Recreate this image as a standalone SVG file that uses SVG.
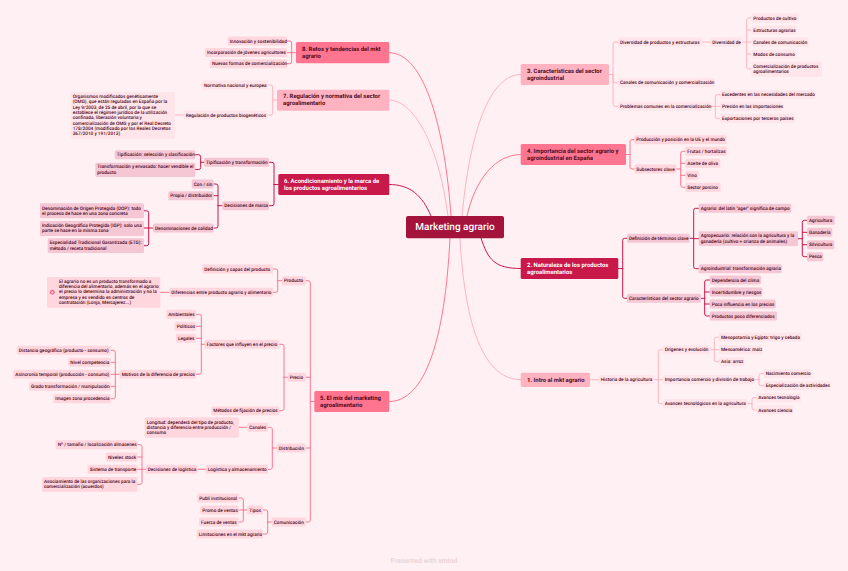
<svg xmlns="http://www.w3.org/2000/svg" width="848" height="571" viewBox="0 0 848 571">
<style>
text{font-family:"Roboto","Liberation Sans",sans-serif;font-size:4.72px;font-weight:500;fill:#4f0a1e;dominant-baseline:middle;text-rendering:geometricPrecision;transform:translateY(.45px)}
.m{font-size:5.95px;font-weight:700}
.w{fill:#fff}
.a{fill:#f5c6d4}.b{fill:#ffd6de}.c{fill:#ffe5ea}
.A{fill:#c9184a}.B{fill:#ff758f}.C{fill:#ffb3c1}
rect{rx:1.5px}
#connectors path{fill:none;stroke-width:1;stroke-linecap:round}
.la{stroke:#c9184a}.lb{stroke:#ff758f}.lc{stroke:#ffb3c1}
</style>
<rect width="848" height="571" fill="#fff0f3" style="rx:0"/>
<g id="connectors">
<path class="lb" d="M389.3 52.7C425 52.7 445 130 451 216"/>
<path class="lc" d="M389.3 100C412 100 438 140 448 216"/>
<path class="la" d="M389.3 184.5C410 184.5 422 195 431 216"/>
<path class="lb" d="M389.3 401.5C425 401.5 445 340 450 238"/>
<path class="lc" d="M520.7 379.7C485 379.7 465 330 460 238"/>
<path class="la" d="M520.7 268.5C495 268.5 488 260 481 238"/>
<path class="lb" d="M520.7 154.5C495 154.5 475 180 467 216"/>
<path class="lc" d="M520.7 74.5C490 74.5 470 130 462 216"/>
<path class="lb" d="M296 52.7H291.7M291.7 52.7V43Q291.7 41 289.7 41H287M291.7 52.7H287M291.7 52.7V61.7Q291.7 63.7 289.7 63.7H287"/>
<path class="lc" d="M277 100H272.7M272.7 100V87Q272.7 85 270.7 85H268M272.7 100V113Q272.7 115 270.7 115H268M183.7 115H175"/>
<path class="la" d="M278.3 184.5H274M274 184.5V164.3Q274 162.3 272 162.3H269M274 184.5V203.7Q274 205.7 272 205.7H269"/>
<path class="la" d="M204 162.3H200.7M200.7 162.3V156.7Q200.7 154.7 198.7 154.7H195.3M200.7 162.3V167.5Q200.7 169.5 198.7 169.5H195.3"/>
<path class="la" d="M222.3 205.7H218M218 205.7V186Q218 184 216 184H213.7M218 195.7H213.7M218 205.7V226Q218 228 216 228H213.7"/>
<path class="la" d="M153 228H148.7M148.7 228V212.8Q148.7 210.8 146.7 210.8H144M148.7 228H144M148.7 228V243.7Q148.7 245.7 146.7 245.7H144"/>
<path class="lb" d="M314.3 401.5H310.3M310.3 401.5V282.7Q310.3 280.7 308.3 280.7H305.7M310.3 377.3H305.7M310.3 401.5V520Q310.3 522 308.3 522H305.7M310.3 448H305.7"/>
<path class="lb" d="M282 280.7H277.7M277.7 280.7V271Q277.7 269 275.7 269H273M277.7 280.7V290.3Q277.7 292.3 275.7 292.3H273M169.3 292.3H160.3"/>
<path class="lb" d="M287.7 377.3H284M284 377.3V346.3Q284 344.3 282 344.3H279.3M284 377.3V408.7Q284 410.7 282 410.7H279.3"/>
<path class="lb" d="M204.7 344.3H201.3M201.3 344.3V316.3Q201.3 314.3 199.3 314.3H196M201.3 326.3H196M201.3 338.3H196M201.3 344.3V372.3Q201.3 374.3 199.3 374.3H196"/>
<path class="lb" d="M119.7 374.3H115.3M115.3 374.3V352.3Q115.3 350.3 113.3 350.3H110.7M115.3 362.3H110.7M115.3 374.3H110.7M115.3 386.3H110.7M115.3 374.3V396.7Q115.3 398.7 113.3 398.7H110.7"/>
<path class="lb" d="M276.7 448H272.3M272.3 448V429.3Q272.3 427.3 270.3 427.3H268M272.3 448V467.3Q272.3 469.3 270.3 469.3H268M247.3 427.3H238.7M205.7 469.3H197.3"/>
<path class="lb" d="M145.7 469.3H142M142 469.3V446.7Q142 444.7 140 444.7H137.3M142 457H137.3M142 469.3H137.3M142 469.3V482.3Q142 484.3 140 484.3H137.3"/>
<path class="lb" d="M271.7 522H267.7M267.7 522V512Q267.7 510 265.7 510H263M267.7 522V532Q267.7 534 265.7 534H263"/>
<path class="lb" d="M247.3 510H243.3M243.3 510V500Q243.3 498 241.3 498H238.7M243.3 510H238.7M243.3 510V520Q243.3 522 241.3 522H238.7"/>
<path class="lc" d="M609 74.5H613M613 74.5V44Q613 42 615 42H618M613 74.5V80.7Q613 82.7 615 82.7H618M613 74.5V104.3Q613 106.3 615 106.3H618M701.7 42H710.3"/>
<path class="lc" d="M742.3 42H746.7M746.7 42V20Q746.7 18 748.7 18H751.3M746.7 30H751.3M746.7 42H751.3M746.7 54H751.3M746.7 42V67Q746.7 69 748.7 69H751.3"/>
<path class="lc" d="M711.3 106.3H715.3M715.3 106.3V96.7Q715.3 94.7 717.3 94.7H720M715.3 106.3H720M715.3 106.3V116.3Q715.3 118.3 717.3 118.3H720"/>
<path class="lb" d="M626 154.5H630M630 154.5V141.7Q630 139.7 632 139.7H634.3M630 154.5V167Q630 169 632 169H634.3"/>
<path class="lb" d="M676.3 169H680.7M680.7 169V153.3Q680.7 151.3 682.7 151.3H685.3M680.7 163.3H685.3M680.7 169V185.3Q680.7 187.3 682.7 187.3H685.3M680.7 175.3H685.3"/>
<path class="la" d="M618.3 268.5H622.7M622.7 268.5V240.3Q622.7 238.3 624.7 238.3H627M622.7 268.5V296.3Q622.7 298.3 624.7 298.3H627"/>
<path class="la" d="M689.7 238.3H693.7M693.7 238.3V210.3Q693.7 208.3 695.7 208.3H698.7M693.7 238.7H698.7M693.7 238.3V266.7Q693.7 268.7 695.7 268.7H698.7"/>
<path class="la" d="M798 238.7H802.3M802.3 238.7V222.3Q802.3 220.3 804.3 220.3H807M802.3 232.3H807M802.3 244.7H807M802.3 238.7V254.7Q802.3 256.7 804.3 256.7H807"/>
<path class="la" d="M701 298.3H704.7M704.7 298.3V282Q704.7 280 706.7 280H709.7M704.7 292H709.7M704.7 304H709.7M704.7 298.3V314Q704.7 316 706.7 316H709.7"/>
<path class="lc" d="M590 379.7H598.7M654.3 379.7H658.3M658.3 379.7V351.7Q658.3 349.7 660.3 349.7H662.7M658.3 379.7H662.7M658.3 379.7V401.7Q658.3 403.7 660.3 403.7H662.7"/>
<path class="lc" d="M710.3 349.7H714.3M714.3 349.7V339.3Q714.3 337.3 716.3 337.3H719M714.3 349.7H719M714.3 349.7V359.7Q714.3 361.7 716.3 361.7H719"/>
<path class="lc" d="M754.7 379.7H759M759 379.7V375.7Q759 373.7 761 373.7H763.7M759 379.7V383.7Q759 385.7 761 385.7H763.7"/>
<path class="lc" d="M747.7 403.7H752M752 403.7V399.7Q752 397.7 754 397.7H756.3M752 403.7V408Q752 410 754 410H756.3"/>
</g>
<g id="root"><rect x="406" y="216" width="98" height="22.3" fill="#a4133c" style="rx:2px"/><text x="455" y="227" text-anchor="middle" class="w" style="font-size:10px;font-weight:500">Marketing agrario</text></g>
<g id="n8"><rect class="B" x="296" y="42" width="93.3" height="21.3"/><text class="m" x="302" y="49">8. Retos y tendencias del mkt</text><text class="m" x="302" y="56">agrario</text></g>
<g id="n8a"><rect class="b" x="227.7" y="36.5" width="59.3" height="9"/><text x="229.7" y="41">Innovación y sostenibilidad</text></g>
<g id="n8b"><rect class="b" x="205" y="48" width="82" height="9"/><text x="207" y="52.5">Incorporación de jóvenes agricultores</text></g>
<g id="n8c"><rect class="b" x="210" y="59.2" width="77" height="9"/><text x="212" y="63.7">Nuevas formas de comercialización</text></g>
<g id="n7"><rect class="C" x="277" y="89.7" width="112.3" height="21"/><text class="m" x="283" y="96.3">7. Regulación y normativa del sector</text><text class="m" x="283" y="103.3">agroalimentario</text></g>
<g id="n7a"><rect class="c" x="202" y="80.5" width="66" height="9"/><text x="204" y="85">Normativa nacional y europea</text></g>
<g id="n7b"><rect class="c" x="183.7" y="110.5" width="84.3" height="9"/><text x="185.7" y="115">Regulación de productos biogenéticos</text></g>
<g id="n7c"><rect class="c" x="70.7" y="92" width="104.3" height="46.7"/><text x="72.7" y="96.3">Organismos modificados genéticamente</text><text x="72.7" y="101.7">(OMG), que están reguladas en España por la</text><text x="72.7" y="107">Ley 9/2003, de 25 de abril, por la que se</text><text x="72.7" y="112.3">establece el régimen jurídico de la utilización</text><text x="72.7" y="117.7">confinada, liberación voluntaria y</text><text x="72.7" y="123">comercialización de OMG y por el Real Decreto</text><text x="72.7" y="128.3">178/2004 (modificado por los Reales Decretos</text><text x="72.7" y="133.7">367/2010 y 191/2013)</text></g>
<g id="n6"><rect class="A" x="278.3" y="174" width="111" height="21"/><text class="m w" x="284" y="180.7">6. Acondicionamiento y la marca de</text><text class="m w" x="284" y="187.7">los productos agroalimentarios</text></g>
<g id="n6a"><rect class="a" x="204" y="157.8" width="65" height="9"/><text x="206" y="162.3">Tipificación y transformación</text></g>
<g id="n6a1"><rect class="a" x="114.7" y="150.2" width="80.6" height="9"/><text x="116.7" y="154.7">Tipificación: selección y clasificación</text></g>
<g id="n6a2"><rect class="a" x="95.3" y="162.7" width="100" height="14.3"/><text x="97.3" y="166.7">Transformación y envasado: hacer vendible el</text><text x="97.3" y="172">producto</text></g>
<g id="n6b"><rect class="a" x="222.3" y="201.2" width="46.7" height="9"/><text x="224.3" y="205.7">Decisiones de marca</text></g>
<g id="n6b1"><rect class="a" x="191.7" y="179.5" width="22" height="9"/><text x="193.7" y="184">Con / sin</text></g>
<g id="n6b2"><rect class="a" x="168.3" y="191.2" width="45.4" height="9"/><text x="170.3" y="195.7">Propia / distribuidor</text></g>
<g id="n6b3"><rect class="a" x="153" y="223.5" width="60.7" height="9"/><text x="155" y="228">Denominaciones de calidad</text></g>
<g id="n6c1"><rect class="a" x="40" y="203.3" width="104" height="15"/><text x="42" y="208">Denominación de Origen Protegida (DOP): todo</text><text x="42" y="213.3">el proceso de hace en una zona concreta</text></g>
<g id="n6c2"><rect class="a" x="40" y="221" width="104" height="15"/><text x="42" y="225.3">Indicación Geográfica Protegida (IGP): solo una</text><text x="42" y="230.7">parte se hace en la misma zona</text></g>
<g id="n6c3"><rect class="a" x="47.7" y="238.3" width="96.3" height="14.7"/><text x="49.7" y="242.7">Especialidad Tradicional Garantizada (ETG):</text><text x="49.7" y="248">método / receta tradicional</text></g>
<g id="n5"><rect class="B" x="314.3" y="391" width="75" height="21"/><text class="m" x="320" y="397.7">5. El mix del marketing</text><text class="m" x="320" y="405">agroalimentario</text></g>
<g id="n5a"><rect class="b" x="282" y="276.2" width="23.7" height="9"/><text x="284" y="280.7">Producto</text></g>
<g id="n5a1"><rect class="b" x="202.3" y="264.5" width="70.7" height="9"/><text x="204.3" y="269">Definición y capas del producto</text></g>
<g id="n5a2"><rect class="b" x="169.3" y="287.8" width="103.7" height="9"/><text x="171.3" y="292.3">Diferencias entre producto agrario y alimentario</text></g>
<g id="n5a3"><rect class="b" x="47" y="277" width="113.3" height="30.7"/><circle cx="52.3" cy="292.3" r="2.3" fill="#ff4d6d"/><path d="M51 292.3H53.6M52.3 291V293.6" stroke="#fff" stroke-width=".8" fill="none"/><text x="59" y="281">El agrario no es un producto transformado a</text><text x="59" y="286.3">diferencia del alimentario, además en el agrario</text><text x="59" y="291.7">el precio lo determina la administración y no la</text><text x="59" y="297">empresa y es vendido en centros de</text><text x="59" y="302.3">contratación (Lonja, Mercajerez...)</text></g>
<g id="n5b"><rect class="b" x="287.7" y="372.8" width="18" height="9"/><text x="289.7" y="377.3">Precio</text></g>
<g id="n5b1"><rect class="b" x="204.7" y="339.8" width="74.6" height="9"/><text x="206.7" y="344.3">Factores que influyen en el precio</text></g>
<g id="n5b2"><rect class="b" x="211.3" y="406.2" width="68" height="9"/><text x="213.3" y="410.7">Métodos de fijación de precios</text></g>
<g id="n5b3"><rect class="b" x="166.3" y="309.8" width="29.7" height="9"/><text x="168.3" y="314.3">Ambientales</text></g>
<g id="n5b4"><rect class="b" x="174.7" y="321.8" width="21.3" height="9"/><text x="176.7" y="326.3">Políticos</text></g>
<g id="n5b5"><rect class="b" x="176" y="333.8" width="20" height="9"/><text x="178" y="338.3">Legales</text></g>
<g id="n5b6"><rect class="b" x="119.7" y="369.8" width="76.3" height="9"/><text x="121.7" y="374.3">Motivos de la diferencia de precios</text></g>
<g id="n5b7"><rect class="b" x="16.7" y="345.8" width="94" height="9"/><text x="18.7" y="350.3">Distancia geográfica (producto - consumo)</text></g>
<g id="n5b8"><rect class="b" x="68.3" y="357.8" width="42.4" height="9"/><text x="70.3" y="362.3">Nivel competencia</text></g>
<g id="n5b9"><rect class="b" x="13.3" y="369.8" width="97.4" height="9"/><text x="15.3" y="374.3">Asincronía temporal (producción - consumo)</text></g>
<g id="n5b10"><rect class="b" x="29" y="381.8" width="81.7" height="9"/><text x="31" y="386.3">Grado transformación / manipulación</text></g>
<g id="n5b11"><rect class="b" x="53.3" y="394.2" width="57.4" height="9"/><text x="55.3" y="398.7">Imagen zona procedencia</text></g>
<g id="n5c"><rect class="b" x="276.7" y="443.5" width="29" height="9"/><text x="278.7" y="448">Distribución</text></g>
<g id="n5c1"><rect class="b" x="247.3" y="422.8" width="20.7" height="9"/><text x="249.3" y="427.3">Canales</text></g>
<g id="n5c2"><rect class="b" x="144.7" y="417.3" width="94" height="20.4"/><text x="146.7" y="422">Longitud: dependerá del tipo de producto,</text><text x="146.7" y="427.3">distancia y diferencia entre producción /</text><text x="146.7" y="432.7">consumo</text></g>
<g id="n5c3"><rect class="b" x="205.7" y="464.8" width="62.3" height="9"/><text x="207.7" y="469.3">Logística y almacenamiento</text></g>
<g id="n5c4"><rect class="b" x="145.7" y="464.8" width="51.6" height="9"/><text x="147.7" y="469.3">Decisiones de logística</text></g>
<g id="n5c5"><rect class="b" x="55.7" y="440.2" width="81.6" height="9"/><text x="57.7" y="444.7">Nº / tamaño / localización almacenes</text></g>
<g id="n5c6"><rect class="b" x="106" y="452.5" width="31.3" height="9"/><text x="108" y="457">Niveles stock</text></g>
<g id="n5c7"><rect class="b" x="87.7" y="464.8" width="49.6" height="9"/><text x="89.7" y="469.3">Sistema de transporte</text></g>
<g id="n5c8"><rect class="b" x="42" y="477" width="95.3" height="14.7"/><text x="44" y="481.3">Asociamiento de las organizaciones para la</text><text x="44" y="486.7">comercialización (acuerdos)</text></g>
<g id="n5d"><rect class="b" x="271.7" y="517.5" width="34" height="9"/><text x="273.7" y="522">Comunicación</text></g>
<g id="n5d1"><rect class="b" x="247.3" y="505.5" width="15.7" height="9"/><text x="249.3" y="510">Tipos</text></g>
<g id="n5d2"><rect class="b" x="196.7" y="529.5" width="66.3" height="9"/><text x="198.7" y="534">Limitaciones en el mkt agrario</text></g>
<g id="n5d3"><rect class="b" x="197.3" y="493.5" width="41.4" height="9"/><text x="199.3" y="498">Publi institucional</text></g>
<g id="n5d4"><rect class="b" x="200.3" y="505.5" width="38.4" height="9"/><text x="202.3" y="510">Promo de ventas</text></g>
<g id="n5d5"><rect class="b" x="199" y="517.5" width="39.7" height="9"/><text x="201" y="522">Fuerza de ventas</text></g>
<g id="n3"><rect class="C" x="520.7" y="64" width="88.3" height="21"/><text class="m" x="527" y="70.7">3. Características del sector</text><text class="m" x="527" y="77.7">agroindustrial</text></g>
<g id="n3a"><rect class="c" x="618" y="37.5" width="83.7" height="9"/><text x="620" y="42">Diversidad de productos y estructuras</text></g>
<g id="n3a1"><rect class="c" x="710.3" y="37.5" width="32" height="9"/><text x="712.3" y="42">Diversidad de</text></g>
<g id="n3a2"><rect class="c" x="751.3" y="13.5" width="47.4" height="9"/><text x="753.3" y="18">Productos de cultivo</text></g>
<g id="n3a3"><rect class="c" x="751.3" y="25.5" width="45.4" height="9"/><text x="753.3" y="30">Estructuras agrarias</text></g>
<g id="n3a4"><rect class="c" x="751.3" y="37.5" width="57.4" height="9"/><text x="753.3" y="42">Canales de comunicación</text></g>
<g id="n3a5"><rect class="c" x="751.3" y="49.5" width="44.7" height="9"/><text x="753.3" y="54">Modos de consumo</text></g>
<g id="n3a6"><rect class="c" x="751.3" y="61.7" width="70.7" height="15"/><text x="753.3" y="66">Comercialización de productos</text><text x="753.3" y="71.7">agroalimentarios</text></g>
<g id="n3b"><rect class="c" x="618" y="78.2" width="97" height="9"/><text x="620" y="82.7">Canales de comunicación y comercialización</text></g>
<g id="n3c"><rect class="c" x="618" y="101.8" width="93.3" height="9"/><text x="620" y="106.3">Problemas comunes en la comercialización</text></g>
<g id="n3c1"><rect class="c" x="720" y="90.2" width="95.3" height="9"/><text x="722" y="94.7">Excedentes en las necesidades del mercado</text></g>
<g id="n3c2"><rect class="c" x="720" y="101.8" width="62.7" height="9"/><text x="722" y="106.3">Presión en las importaciones</text></g>
<g id="n3c3"><rect class="c" x="720" y="113.8" width="74.7" height="9"/><text x="722" y="118.3">Exportaciones por terceros países</text></g>
<g id="n4"><rect class="B" x="520.7" y="144" width="105.3" height="21"/><text class="m" x="527" y="150.7">4. Importancia del sector agrario y</text><text class="m" x="527" y="158">agroindustrial en España</text></g>
<g id="n4a"><rect class="b" x="634.3" y="135.2" width="92.4" height="9"/><text x="636.3" y="139.7">Producción y posición en la UE y el mundo</text></g>
<g id="n4b"><rect class="b" x="634.3" y="164.5" width="42" height="9"/><text x="636.3" y="169">Subsectores clave</text></g>
<g id="n4b1"><rect class="b" x="685.3" y="146.8" width="41.7" height="9"/><text x="687.3" y="151.3">Frutas / hortalizas</text></g>
<g id="n4b2"><rect class="b" x="685.3" y="158.8" width="35" height="9"/><text x="687.3" y="163.3">Aceite de oliva</text></g>
<g id="n4b3"><rect class="b" x="685.3" y="170.8" width="13.4" height="9"/><text x="687.3" y="175.3">Vino</text></g>
<g id="n4b4"><rect class="b" x="685.3" y="182.8" width="35.4" height="9"/><text x="687.3" y="187.3">Sector porcino</text></g>
<g id="n2"><rect class="A" x="520.7" y="258" width="97.6" height="21"/><text class="m w" x="527" y="264.7">2. Naturaleza de los productos</text><text class="m w" x="527" y="271.7">agroalimentarios</text></g>
<g id="n2a"><rect class="a" x="627" y="233.8" width="62.7" height="9"/><text x="629" y="238.3">Definición de términos clave</text></g>
<g id="n2a1"><rect class="a" x="698.7" y="203.8" width="92.6" height="9"/><text x="700.7" y="208.3">Agrario: del latín "ager" significa de campo</text></g>
<g id="n2a2"><rect class="a" x="698.7" y="231.3" width="99.3" height="14.7"/><text x="700.7" y="235.7">Agropecuario: relación con la agricultura y la</text><text x="700.7" y="241">ganadería (cultivo + crianza de animales)</text></g>
<g id="n2a3"><rect class="a" x="698.7" y="264.2" width="83" height="9"/><text x="700.7" y="268.7">Agroindustrial: transformación agraria</text></g>
<g id="n2a4"><rect class="a" x="807" y="215.8" width="27.7" height="9"/><text x="809" y="220.3">Agricultura</text></g>
<g id="n2a5"><rect class="a" x="807" y="227.8" width="25.3" height="9"/><text x="809" y="232.3">Ganadería</text></g>
<g id="n2a6"><rect class="a" x="807" y="240.2" width="27.3" height="9"/><text x="809" y="244.7">Silvicultura</text></g>
<g id="n2a7"><rect class="a" x="807" y="252.2" width="16.3" height="9"/><text x="809" y="256.7">Pesca</text></g>
<g id="n2b"><rect class="a" x="627" y="293.8" width="74" height="9"/><text x="629" y="298.3">Características del sector agrario</text></g>
<g id="n2b1"><rect class="a" x="709.7" y="275.5" width="51.3" height="9"/><text x="711.7" y="280">Dependencia del clima</text></g>
<g id="n2b2"><rect class="a" x="709.7" y="287.5" width="52.6" height="9"/><text x="711.7" y="292">Incertidumbre y riesgos</text></g>
<g id="n2b3"><rect class="a" x="709.7" y="299.5" width="66" height="9"/><text x="711.7" y="304">Poca influencia en los precios</text></g>
<g id="n2b4"><rect class="a" x="709.7" y="311.5" width="67.3" height="9"/><text x="711.7" y="316">Productos poco diferenciados</text></g>
<g id="n1"><rect class="C" x="520.7" y="372.7" width="69.3" height="14.3"/><text class="m" x="527" y="379.7">1. Intro al mkt agrario</text></g>
<g id="n1a"><rect class="c" x="598.7" y="375.2" width="55.6" height="9"/><text x="600.7" y="379.7">Historia de la agricultura</text></g>
<g id="n1b"><rect class="c" x="662.7" y="345.2" width="47.6" height="9"/><text x="664.7" y="349.7">Orígenes y evolución</text></g>
<g id="n1c"><rect class="c" x="662.7" y="375.2" width="92" height="9"/><text x="664.7" y="379.7">Importancia comercio y división de trabajo</text></g>
<g id="n1d"><rect class="c" x="662.7" y="399.2" width="85" height="9"/><text x="664.7" y="403.7">Avances tecnológicos en la agricultura</text></g>
<g id="n1b1"><rect class="c" x="719" y="332.8" width="82.7" height="9"/><text x="721" y="337.3">Mesopotamia y Egipto: trigo y cebada</text></g>
<g id="n1b2"><rect class="c" x="719" y="345.2" width="43.3" height="9"/><text x="721" y="349.7">Mesoamérica: maíz</text></g>
<g id="n1b3"><rect class="c" x="719" y="357.2" width="25.3" height="9"/><text x="721" y="361.7">Asia: arroz</text></g>
<g id="n1c1"><rect class="c" x="763.7" y="369.2" width="48" height="9"/><text x="765.7" y="373.7">Nacimiento comercio</text></g>
<g id="n1c2"><rect class="c" x="763.7" y="381.2" width="67.3" height="9"/><text x="765.7" y="385.7">Especialización de actividades</text></g>
<g id="n1d1"><rect class="c" x="756.3" y="393.2" width="44.7" height="9"/><text x="758.3" y="397.7">Avances tecnología</text></g>
<g id="n1d2"><rect class="c" x="756.3" y="405.5" width="37" height="9"/><text x="758.3" y="410">Avances ciencia</text></g>
<g id="footer"><text x="390.5" y="561" style="font-size:6.9px;fill:#e8d3d9">Presented with <tspan font-weight="700">xmind</tspan></text></g>
</svg>
